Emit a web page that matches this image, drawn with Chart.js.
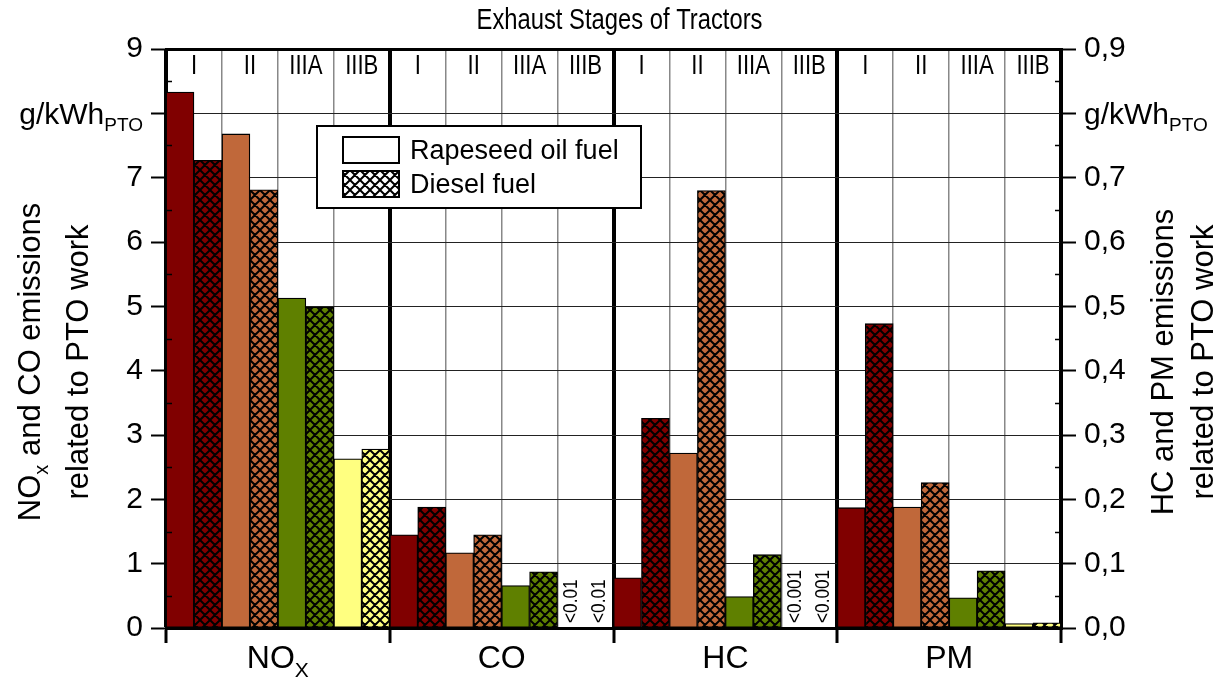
<!DOCTYPE html>
<html>
<head>
<meta charset="utf-8">
<title>Exhaust Stages of Tractors</title>
<script src="https://cdn.jsdelivr.net/npm/chart.js@4.4.1/dist/chart.umd.min.js"></script>
<style>
  html, body { margin: 0; padding: 0; background: #fff; }
</style>
</head>
<body>
<canvas id="chart" width="1223" height="679"></canvas>
<script>
// ---- data ----
const stages = ['I', 'II', 'IIIA', 'IIIB'];
const pollutants = ['NO', 'CO', 'HC', 'PM'];
const pollutantSubs = ['X', '', '', ''];
const detectionLimits = ['', '<0.01', '<0.001', ''];
const fuels = ['Rapeseed oil fuel', 'Diesel fuel'];

// left axis: NOx and CO (g/kWh PTO)
const noxRapeseed = [8.33, 7.68, 5.13, 2.63];
const noxDiesel   = [7.27, 6.81, 4.99, 2.78];
const coRapeseed  = [1.45, 1.17, 0.66, 0];
const coDiesel    = [1.88, 1.45, 0.875, 0];
// right axis: HC and PM (g/kWh PTO)
const hcRapeseed  = [0.078, 0.272, 0.049, 0];
const hcDiesel    = [0.326, 0.68, 0.114, 0];
const pmRapeseed  = [0.187, 0.188, 0.047, 0.007];
const pmDiesel    = [0.473, 0.226, 0.089, 0.008];

const leftMax = 9, leftStep = 1;
const rightMax = 0.9, rightStep = 0.1;
const unitTickLeft = 8, unitTickRight = 0.8;

const stageColors = ['#800000', '#c0683a', '#5f8000', '#ffff80'];

const SANS = "'Liberation Sans', Arial, sans-serif";
const NARROW_X = 0.82;   // horizontal squeeze to mimic Arial Narrow

// crosshatch fill for diesel bars
function hatch(color) {
    const s = 10;
    const c = document.createElement('canvas');
    c.width = s; c.height = s;
    const g = c.getContext('2d');
    g.fillStyle = color;
    g.fillRect(0, 0, s, s);
    g.strokeStyle = '#000';
    g.lineWidth = 2;
    g.beginPath();
    for (const d of [-s, 0, s]) {
        g.moveTo(d, 0); g.lineTo(d + s, s);
        g.moveTo(d + s, 0); g.lineTo(d, s);
    }
    g.stroke();
    return g.createPattern(c, 'repeat');
}

const nulls = [null, null, null, null];
const labels = [];
pollutants.forEach(() => stages.forEach(s => labels.push(s)));
const solidFill = labels.map((_, i) => stageColors[i % 4]);
const hatchFill = stageColors.map(hatch);
const hatchFills = labels.map((_, i) => hatchFill[i % 4]);

function barSet(label, data, axis, fill) {
    return {
        label, data, yAxisID: axis,
        backgroundColor: fill,
        borderColor: '#000',
        borderWidth: 1.3,
        borderSkipped: false,
        categoryPercentage: 1,
        barPercentage: 1,
        skipNull: true
    };
}

function rich(ctx, parts, x, y, align) {
    let w = 0;
    for (const p of parts) { ctx.font = p.font; w += ctx.measureText(p.text).width; }
    let cx = align === 'center' ? x - w / 2 : align === 'right' ? x - w : x;
    ctx.textAlign = 'left';
    for (const p of parts) {
        ctx.font = p.font;
        ctx.fillText(p.text, cx, y + (p.dy || 0));
        cx += ctx.measureText(p.text).width;
    }
}

function narrow(ctx, text, x, y, size, rot) {
    ctx.save();
    ctx.translate(x, y);
    if (rot) ctx.rotate(rot);
    ctx.scale(NARROW_X, 1);
    ctx.font = size + 'px ' + SANS;
    ctx.fillText(text, 0, 0);
    ctx.restore();
}

// texts, minor ticks and legend drawn on top of the chart
const decor = {
    id: 'decor',
    afterDraw(chart) {
        const { ctx, chartArea: a, scales } = chart;
        const xs = scales.x, yL = scales.y, yR = scales.y2;
        ctx.save();
        ctx.fillStyle = '#000';
        ctx.strokeStyle = '#000';

        // minor ticks
        ctx.lineWidth = 1.5;
        ctx.beginPath();
        for (let v = leftStep / 2; v < leftMax; v += leftStep) {
            const y = Math.round(yL.getPixelForValue(v)) + 0.5;
            ctx.moveTo(a.left, y); ctx.lineTo(a.left + 6, y);
            ctx.moveTo(a.right - 6, y); ctx.lineTo(a.right, y);
        }
        ctx.stroke();

        // title
        ctx.textBaseline = 'middle';
        ctx.textAlign = 'center';
        narrow(ctx, 'Exhaust Stages of Tractors', (a.left + a.right) / 2 + 6, 21, 29);

        // stage labels inside the top of the plot
        labels.forEach((s, i) => narrow(ctx, s, xs.getPixelForValue(i), a.top + 18, 27));

        // pollutant labels below the axis
        ctx.textBaseline = 'alphabetic';
        pollutants.forEach((p, g) => {
            const cx = (xs.getPixelForValue(4 * g + 1) + xs.getPixelForValue(4 * g + 2)) / 2;
            rich(ctx, [
                { text: p, font: '32px ' + SANS },
                { text: pollutantSubs[g], font: '21px ' + SANS, dy: 9 }
            ], cx, a.bottom + 40, 'center');
        });

        // unit in place of the 8 / 0,8 tick labels
        ctx.textBaseline = 'middle';
        const unitParts = [
            { text: 'g/kWh', font: '30px ' + SANS, dy: 2 },
            { text: 'PTO', font: '19px ' + SANS, dy: 12 }
        ];
        rich(ctx, unitParts, a.left - 23, yL.getPixelForValue(unitTickLeft), 'right');
        rich(ctx, unitParts, a.right + 23, yR.getPixelForValue(unitTickRight), 'left');

        // axis titles
        const yc = 362;
        const titleFont = '31px ' + SANS;
        const vtitle = (x, parts) => {
            ctx.save();
            ctx.translate(x, yc);
            ctx.rotate(-Math.PI / 2);
            ctx.textBaseline = 'alphabetic';
            rich(ctx, parts, 0, 0, 'center');
            ctx.restore();
        };
        vtitle(40, [
            { text: 'NO', font: titleFont },
            { text: 'x', font: '20px ' + SANS, dy: 8 },
            { text: ' and CO emissions', font: titleFont }
        ]);
        vtitle(88, [{ text: 'related to PTO work', font: titleFont }]);
        vtitle(1173, [{ text: 'HC and PM emissions', font: titleFont }]);
        vtitle(1213, [{ text: 'related to PTO work', font: titleFont }]);

        // "below detection limit" notes on empty bars
        ctx.textAlign = 'left';
        ctx.textBaseline = 'middle';
        chart.data.datasets.forEach((ds, d) => {
            const meta = chart.getDatasetMeta(d);
            ds.data.forEach((v, i) => {
                const note = detectionLimits[Math.floor(i / 4)];
                if (v !== 0 || !note) return;
                const bar = meta.data[i];
                narrow(ctx, note, bar.x, a.bottom - 5, 21, -Math.PI / 2);
            });
        });

        // legend box
        const lx = a.left + 151, ly = a.top + 77;
        ctx.fillStyle = '#fff';
        ctx.fillRect(lx, ly, 324, 82);
        ctx.lineWidth = 2;
        ctx.strokeRect(lx, ly, 324, 82);
        const swatches = ['#ffffff', hatch('#ffffff')];
        fuels.forEach((f, k) => {
            const sy = ly + 11 + k * 34;
            ctx.fillStyle = swatches[k];
            ctx.fillRect(lx + 26, sy, 56, 26);
            ctx.strokeRect(lx + 26, sy, 56, 26);
            ctx.fillStyle = '#000';
            ctx.font = '27px ' + SANS;
            ctx.textAlign = 'left';
            ctx.textBaseline = 'alphabetic';
            ctx.fillText(f, lx + 93, sy + 22);
        });

        ctx.restore();
    }
};

new Chart(document.getElementById('chart'), {
    type: 'bar',
    data: {
        labels,
        datasets: [
            barSet(fuels[0], noxRapeseed.concat(coRapeseed, nulls, nulls), 'y', solidFill),
            barSet(fuels[1], noxDiesel.concat(coDiesel, nulls, nulls), 'y', hatchFills),
            barSet(fuels[0], nulls.concat(nulls, hcRapeseed, pmRapeseed), 'y2', solidFill),
            barSet(fuels[1], nulls.concat(nulls, hcDiesel, pmDiesel), 'y2', hatchFills)
        ]
    },
    options: {
        responsive: false,
        animation: false,
        layout: { padding: { top: 49, left: 0, right: 0, bottom: 0 } },
        plugins: {
            legend: { display: false },
            title: { display: false },
            tooltip: { enabled: false }
        },
        scales: {
            x: {
                type: 'category',
                offset: true,
                ticks: { display: false },
                afterFit: s => { s.height = 51; },
                border: { display: true, color: '#000', width: 3 },
                grid: {
                    offset: true,
                    drawTicks: true,
                    tickLength: 15,
                    color: c => (c.index === undefined || c.index % 4 === 0) ? '#000' : '#888',
                    lineWidth: c => (c.index === undefined || c.index % 4 === 0) ? 4 : 1.5,
                    tickColor: c => (c.index === undefined || c.index % 4 === 0) ? '#000' : 'rgba(0,0,0,0)',
                    tickWidth: 3
                }
            },
            y: {
                position: 'left',
                min: 0, max: leftMax,
                afterFit: s => { s.width = 166; },
                ticks: {
                    stepSize: leftStep,
                    padding: 8,
                    color: '#000',
                    font: { family: SANS, size: 30 },
                    callback: v => Math.abs(v - unitTickLeft) < 1e-6 ? '' : String(v)
                },
                border: { display: true, color: '#000', width: 3 },
                grid: {
                    color: c => (c.tick && c.tick.value === leftMax) ? '#000' : '#222',
                    lineWidth: c => (c.tick && c.tick.value === leftMax) ? 3 : 1,
                    tickColor: '#000',
                    tickWidth: 2,
                    tickLength: 15
                }
            },
            y2: {
                position: 'right',
                min: 0, max: rightMax,
                afterFit: s => { s.width = 162; },
                ticks: {
                    stepSize: rightStep,
                    padding: 8,
                    color: '#000',
                    font: { family: SANS, size: 30 },
                    callback: v => Math.abs(v - unitTickRight) < 1e-6 ? '' : v.toFixed(1).replace('.', ',')
                },
                border: { display: true, color: '#000', width: 3 },
                grid: {
                    drawOnChartArea: false,
                    tickColor: '#000',
                    tickWidth: 2,
                    tickLength: 15
                }
            }
        }
    },
    plugins: [decor]
});
</script>
</body>
</html>
